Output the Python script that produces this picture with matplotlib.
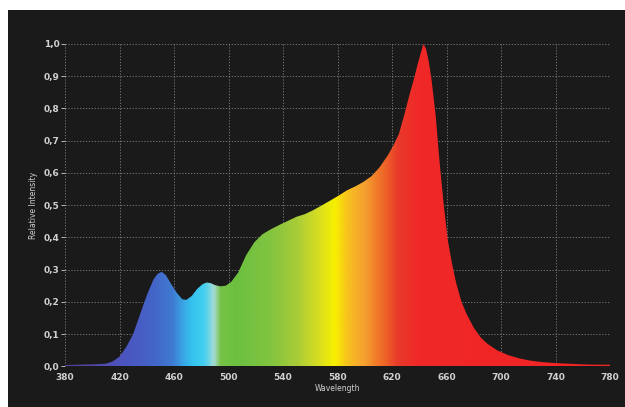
import numpy as np
import matplotlib
matplotlib.use("Agg")
import matplotlib.pyplot as plt
from matplotlib.colors import LinearSegmentedColormap
from matplotlib.patches import Rectangle

# spectrum
wavelength = [380, 390, 400, 410, 415, 420, 425, 430, 435, 440, 445, 448, 451, 454,
              458, 462, 466, 469, 473, 477, 481, 484, 487, 490, 494, 498, 502, 507,
              513, 519, 525, 531, 538, 544, 550, 556, 562, 568, 575, 581, 587, 593,
              599, 605, 611, 617, 621, 625, 629, 633, 636, 639, 641, 643, 645, 647,
              649, 652, 655, 658, 661, 664, 667, 671, 675, 680, 685, 690, 697, 705,
              713, 721, 730, 740, 750, 760, 770, 780]
intensity = [0.004, 0.005, 0.006, 0.008, 0.015, 0.03, 0.06, 0.10, 0.16, 0.22, 0.27,
             0.287, 0.293, 0.283, 0.255, 0.228, 0.208, 0.206, 0.218, 0.24, 0.255,
             0.26, 0.258, 0.252, 0.248, 0.25, 0.262, 0.29, 0.345, 0.385, 0.41, 0.425,
             0.44, 0.452, 0.464, 0.472, 0.484, 0.498, 0.515, 0.53, 0.546, 0.558,
             0.572, 0.59, 0.618, 0.655, 0.685, 0.72, 0.78, 0.845, 0.89, 0.94, 0.97,
             1.0, 0.985, 0.945, 0.89, 0.78, 0.63, 0.5, 0.39, 0.32, 0.26, 0.2, 0.16,
             0.12, 0.09, 0.07, 0.05, 0.035, 0.025, 0.018, 0.013, 0.01, 0.008, 0.006,
             0.005, 0.005]

x_ticks = [380, 420, 460, 500, 540, 580, 620, 660, 700, 740, 780]
y_ticks = [0.0, 0.1, 0.2, 0.3, 0.4, 0.5, 0.6, 0.7, 0.8, 0.9, 1.0]

# colour stops of the fill, by wavelength
stop_wl = [380, 425, 445, 458, 466, 473, 482, 489, 494, 505, 530, 550, 565, 578,
           588, 600, 612, 625, 640, 780]
stop_col = ["#5a3f9a", "#4b56c0", "#4466c8", "#3f7ad0", "#3aa4e4", "#34c4f0",
            "#45cfef", "#a8dcd4", "#76c246", "#6cc040", "#80c440", "#a8cc38",
            "#d4dc24", "#f8f000", "#f8c020", "#f5a030", "#f07028", "#e83a2a",
            "#f02828", "#f22424"]

BG = "#1a1a1a"
FG = "#d0d0d0"

fig = plt.figure(figsize=(6.25, 4.07), dpi=100, facecolor="white")
fig.add_artist(Rectangle((8 / 625, 0), 1, 1 - 10 / 407, transform=fig.transFigure,
                         facecolor=BG, edgecolor="none", zorder=-10))

ax = fig.add_axes([0.104, 0.100, 0.872, 0.792])
ax.set_facecolor(BG)
for s in ax.spines.values():
    s.set_visible(False)

span = stop_wl[-1] - stop_wl[0]
cmap = LinearSegmentedColormap.from_list(
    "spec", [((w - stop_wl[0]) / span, c) for w, c in zip(stop_wl, stop_col)])
grad = np.linspace(0, 1, 800).reshape(1, -1)
img = ax.imshow(grad, cmap=cmap, aspect="auto", extent=[380, 780, 0, 1],
                origin="lower", zorder=2, interpolation="bilinear")
poly = ax.fill_between(wavelength, intensity, 0, facecolor="none", edgecolor="none")
path = poly.get_paths()[0]
img.set_clip_path(path, transform=ax.transData)

ax.set_xlim(380, 780)
ax.set_ylim(0, 1.0)
ax.set_xticks(x_ticks)
ax.set_yticks(y_ticks)
ax.set_yticklabels([f"{v:.1f}".replace(".", ",") for v in y_ticks])
ax.grid(True, color="#9a9a9a", linestyle=(0, (1.5, 2)), linewidth=0.6, alpha=0.8, zorder=1)
ax.set_axisbelow(True)
ax.tick_params(axis="x", length=0, colors=FG, labelsize=6.5, pad=5)
ax.tick_params(axis="y", length=3, width=0.6, colors=FG, labelsize=6.5, pad=1)
for lab in ax.get_xticklabels() + ax.get_yticklabels():
    lab.set_fontweight("bold")

ax.set_xlabel("Wavelength", color=FG, fontsize=5.5, labelpad=1)
ax.set_ylabel("Relative Intensity", color=FG, fontsize=5.5, labelpad=4)

fig.savefig("out.png", dpi=100, facecolor=fig.get_facecolor())
